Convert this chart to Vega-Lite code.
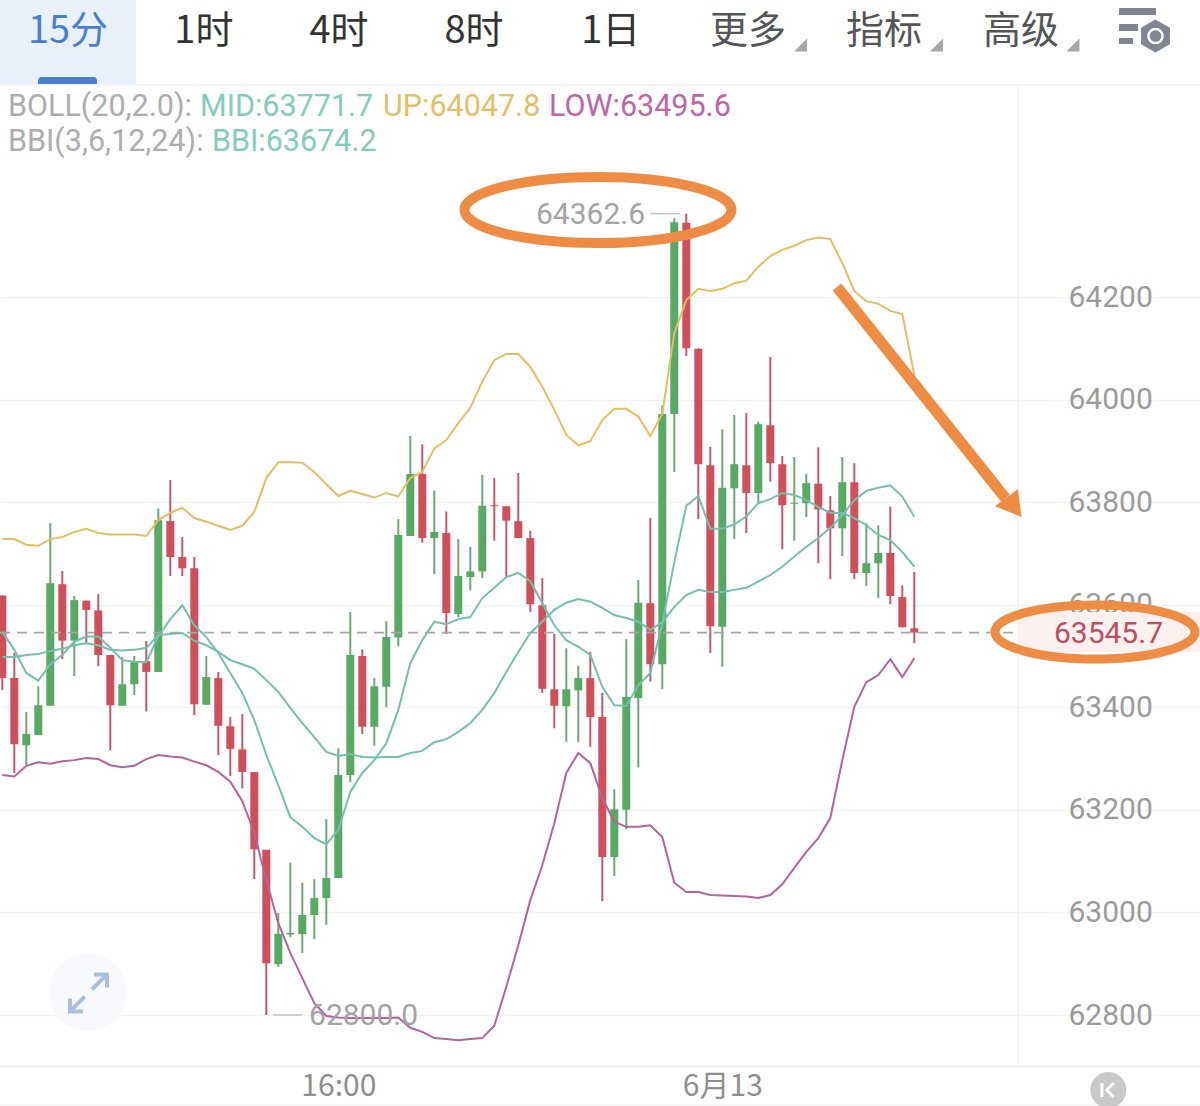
{"$schema":"https://vega.github.io/schema/vega-lite/v6.json","width":1200,"height":1106,"padding":0,"autosize":{"type":"none"},"background":"white","config":{"view":{"stroke":null},"text":{"font":"Roboto"}},
"datasets":{"candles":[
{"i":0,"o":63618,"h":63618,"l":63434,"c":63457,"up":63728,"low":63268,"mid":63498,"bbi":63547},
{"i":1,"o":63457,"h":63506,"l":63272,"c":63328,"up":63728,"low":63265,"mid":63498,"bbi":63512},
{"i":2,"o":63326,"h":63391,"l":63285,"c":63348,"up":63717,"low":63286,"mid":63502,"bbi":63467},
{"i":3,"o":63346,"h":63441,"l":63346,"c":63404,"up":63715,"low":63293,"mid":63504,"bbi":63452},
{"i":4,"o":63403,"h":63759,"l":63403,"c":63642,"up":63728,"low":63290,"mid":63510,"bbi":63484},
{"i":5,"o":63640,"h":63666,"l":63494,"c":63530,"up":63732,"low":63295,"mid":63514,"bbi":63502},
{"i":6,"o":63530,"h":63617,"l":63461,"c":63609,"up":63742,"low":63297,"mid":63521,"bbi":63528},
{"i":7,"o":63608,"h":63608,"l":63525,"c":63590,"up":63748,"low":63301,"mid":63525,"bbi":63538},
{"i":8,"o":63589,"h":63621,"l":63480,"c":63502,"up":63740,"low":63299,"mid":63521,"bbi":63538},
{"i":9,"o":63502,"h":63502,"l":63316,"c":63404,"up":63737,"low":63287,"mid":63512,"bbi":63516},
{"i":10,"o":63403,"h":63498,"l":63403,"c":63445,"up":63737,"low":63283,"mid":63511,"bbi":63492},
{"i":11,"o":63445,"h":63500,"l":63424,"c":63490,"up":63737,"low":63286,"mid":63512,"bbi":63489},
{"i":12,"o":63490,"h":63529,"l":63392,"c":63469,"up":63734,"low":63299,"mid":63516,"bbi":63488},
{"i":13,"o":63469,"h":63788,"l":63469,"c":63765,"up":63765,"low":63307,"mid":63541,"bbi":63538},
{"i":14,"o":63763,"h":63843,"l":63656,"c":63693,"up":63779,"low":63304,"mid":63543,"bbi":63572},
{"i":15,"o":63693,"h":63732,"l":63656,"c":63671,"up":63789,"low":63302,"mid":63545,"bbi":63599},
{"i":16,"o":63671,"h":63693,"l":63385,"c":63406,"up":63769,"low":63294,"mid":63530,"bbi":63560},
{"i":17,"o":63405,"h":63500,"l":63405,"c":63459,"up":63762,"low":63287,"mid":63521,"bbi":63537},
{"i":18,"o":63457,"h":63469,"l":63307,"c":63364,"up":63754,"low":63274,"mid":63508,"bbi":63506},
{"i":19,"o":63363,"h":63381,"l":63266,"c":63319,"up":63746,"low":63255,"mid":63492,"bbi":63467},
{"i":20,"o":63318,"h":63387,"l":63242,"c":63274,"up":63754,"low":63217,"mid":63484,"bbi":63428},
{"i":21,"o":63274,"h":63274,"l":63065,"c":63123,"up":63781,"low":63155,"mid":63475,"bbi":63375},
{"i":22,"o":63122,"h":63122,"l":62800,"c":62901,"up":63847,"low":63063,"mid":63453,"bbi":63307},
{"i":23,"o":62899,"h":62999,"l":62894,"c":62958,"up":63878,"low":62979,"mid":63430,"bbi":63248},
{"i":24,"o":62957,"h":63097,"l":62952,"c":62960,"up":63878,"low":62921,"mid":63399,"bbi":63186},
{"i":25,"o":62958,"h":63058,"l":62921,"c":62995,"up":63877,"low":62872,"mid":63369,"bbi":63167},
{"i":26,"o":62995,"h":63065,"l":62948,"c":63028,"up":63859,"low":62823,"mid":63342,"bbi":63145},
{"i":27,"o":63028,"h":63182,"l":62976,"c":63067,"up":63835,"low":62798,"mid":63313,"bbi":63133},
{"i":28,"o":63067,"h":63320,"l":63067,"c":63268,"up":63812,"low":62795,"mid":63305,"bbi":63161},
{"i":29,"o":63268,"h":63586,"l":63254,"c":63502,"up":63822,"low":62794,"mid":63309,"bbi":63235},
{"i":30,"o":63500,"h":63513,"l":63348,"c":63362,"up":63816,"low":62794,"mid":63303,"bbi":63272},
{"i":31,"o":63362,"h":63457,"l":63325,"c":63441,"up":63809,"low":62794,"mid":63302,"bbi":63297},
{"i":32,"o":63440,"h":63568,"l":63400,"c":63537,"up":63818,"low":62794,"mid":63303,"bbi":63330},
{"i":33,"o":63536,"h":63767,"l":63519,"c":63736,"up":63811,"low":62795,"mid":63303,"bbi":63395},
{"i":34,"o":63734,"h":63929,"l":63734,"c":63855,"up":63847,"low":62775,"mid":63311,"bbi":63486},
{"i":35,"o":63855,"h":63913,"l":63721,"c":63730,"up":63859,"low":62767,"mid":63315,"bbi":63531},
{"i":36,"o":63730,"h":63823,"l":63660,"c":63742,"up":63905,"low":62755,"mid":63332,"bbi":63567},
{"i":37,"o":63740,"h":63782,"l":63543,"c":63584,"up":63921,"low":62753,"mid":63338,"bbi":63562},
{"i":38,"o":63582,"h":63728,"l":63576,"c":63656,"up":63954,"low":62751,"mid":63352,"bbi":63572},
{"i":39,"o":63654,"h":63713,"l":63628,"c":63665,"up":63984,"low":62753,"mid":63369,"bbi":63576},
{"i":40,"o":63665,"h":63853,"l":63652,"c":63793,"up":64035,"low":62755,"mid":63395,"bbi":63613},
{"i":41,"o":63794,"h":63847,"l":63725,"c":63792,"up":64077,"low":62779,"mid":63428,"bbi":63633},
{"i":42,"o":63792,"h":63792,"l":63652,"c":63764,"up":64089,"low":62855,"mid":63469,"bbi":63654},
{"i":43,"o":63763,"h":63857,"l":63730,"c":63730,"up":64089,"low":62936,"mid":63508,"bbi":63662},
{"i":44,"o":63730,"h":63744,"l":63586,"c":63601,"up":64064,"low":63024,"mid":63545,"bbi":63646},
{"i":45,"o":63599,"h":63652,"l":63428,"c":63436,"up":64025,"low":63092,"mid":63567,"bbi":63603},
{"i":46,"o":63435,"h":63543,"l":63359,"c":63403,"up":63980,"low":63174,"mid":63590,"bbi":63560},
{"i":47,"o":63402,"h":63515,"l":63333,"c":63435,"up":63931,"low":63272,"mid":63604,"bbi":63531},
{"i":48,"o":63433,"h":63481,"l":63332,"c":63457,"up":63911,"low":63311,"mid":63611,"bbi":63518},
{"i":49,"o":63457,"h":63508,"l":63323,"c":63381,"up":63919,"low":63291,"mid":63606,"bbi":63502},
{"i":50,"o":63381,"h":63428,"l":63022,"c":63108,"up":63960,"low":63223,"mid":63594,"bbi":63440},
{"i":51,"o":63108,"h":63240,"l":63071,"c":63201,"up":63982,"low":63177,"mid":63580,"bbi":63404},
{"i":52,"o":63200,"h":63533,"l":63162,"c":63420,"up":63982,"low":63167,"mid":63574,"bbi":63403},
{"i":53,"o":63418,"h":63648,"l":63283,"c":63604,"up":63967,"low":63167,"mid":63567,"bbi":63443},
{"i":54,"o":63603,"h":63769,"l":63450,"c":63484,"up":63929,"low":63170,"mid":63551,"bbi":63467},
{"i":55,"o":63484,"h":63989,"l":63435,"c":63972,"up":63972,"low":63147,"mid":63566,"bbi":63564},
{"i":56,"o":63972,"h":64354,"l":63859,"c":64346,"up":64130,"low":63058,"mid":63596,"bbi":63683},
{"i":57,"o":64345,"h":64362.6,"l":64085,"c":64100,"up":64194,"low":63040,"mid":63619,"bbi":63793},
{"i":58,"o":64099,"h":64100,"l":63767,"c":63874,"up":64216,"low":63040,"mid":63629,"bbi":63812},
{"i":59,"o":63872,"h":63908,"l":63506,"c":63558,"up":64212,"low":63034,"mid":63625,"bbi":63748},
{"i":60,"o":63557,"h":63942,"l":63479,"c":63828,"up":64216,"low":63033,"mid":63625,"bbi":63748},
{"i":61,"o":63827,"h":63970,"l":63728,"c":63874,"up":64227,"low":63032,"mid":63629,"bbi":63757},
{"i":62,"o":63872,"h":63974,"l":63740,"c":63818,"up":64232,"low":63031,"mid":63633,"bbi":63772},
{"i":63,"o":63818,"h":63957,"l":63796,"c":63952,"up":64259,"low":63028,"mid":63645,"bbi":63798},
{"i":64,"o":63950,"h":64083,"l":63840,"c":63876,"up":64280,"low":63034,"mid":63658,"bbi":63806},
{"i":65,"o":63874,"h":63890,"l":63708,"c":63794,"up":64292,"low":63055,"mid":63674,"bbi":63818},
{"i":66,"o":63797,"h":63888,"l":63725,"c":63799,"up":64300,"low":63087,"mid":63694,"bbi":63814},
{"i":67,"o":63798,"h":63855,"l":63771,"c":63837,"up":64311,"low":63118,"mid":63713,"bbi":63804},
{"i":68,"o":63836,"h":63907,"l":63681,"c":63786,"up":64316,"low":63145,"mid":63730,"bbi":63791},
{"i":69,"o":63784,"h":63812,"l":63650,"c":63749,"up":64313,"low":63184,"mid":63750,"bbi":63779},
{"i":70,"o":63749,"h":63888,"l":63695,"c":63839,"up":64266,"low":63297,"mid":63775,"bbi":63779},
{"i":71,"o":63839,"h":63876,"l":63650,"c":63662,"up":64212,"low":63401,"mid":63804,"bbi":63769},
{"i":72,"o":63662,"h":63759,"l":63637,"c":63681,"up":64192,"low":63449,"mid":63822,"bbi":63755},
{"i":73,"o":63681,"h":63755,"l":63613,"c":63701,"up":64187,"low":63463,"mid":63828,"bbi":63736},
{"i":74,"o":63701,"h":63791,"l":63601,"c":63617,"up":64173,"low":63494,"mid":63833,"bbi":63726},
{"i":75,"o":63615,"h":63638,"l":63556,"c":63556,"up":64167,"low":63459,"mid":63811,"bbi":63703},
{"i":76,"o":63554,"h":63664,"l":63525,"c":63545.7,"up":64047.8,"low":63495.6,"mid":63771.7,"bbi":63674.2}
]},
"encoding":{"x":{"field":"i","type":"quantitative","title":null,"scale":{"domain":[-0.192,99.808],"nice":false,"zero":false,"padding":0},"axis":{"orient":"bottom","offset":-40,"values":[28,60],"labelExpr":"datum.value==28?'16:00':'6月13'","grid":false,"ticks":false,"domain":true,"domainColor":"#efefef","domainWidth":2,"labelFont":"Noto Sans CJK SC","labelFontSize":30,"labelColor":"#8e8e8e","labelPadding":5,"labelBaseline":"top","labelOverlap":false,"labelFlush":false,"title":null}},
"y":{"field":"price","type":"quantitative","title":null,"scale":{"domain":[62622.55,64779.25],"nice":false,"zero":false},"axis":{"orient":"right","offset":-132,"values":[62800,63000,63200,63400,63600,63800,64000,64200],"labelExpr":"''+datum.value","grid":true,"gridColor":"#f3f3f3","gridWidth":1.5,"ticks":false,"domain":false,"labelFont":"Roboto","labelFontSize":30,"labelColor":"#9b9b9b","labelPadding":0,"labelAlign":"left","labelBaseline":"middle","labelOverlap":false,"labelFlush":false,"title":null}}},
"layer":[
{"data":{"values":[{"i":-0.192,"i2":11.14,"price":64779.25,"price2":64615.45}]},"mark":{"type":"rect","fill":"#e8f1fc"},"encoding":{"x2":{"field":"i2"},"y2":{"field":"price2"}}},
{"data":{"values":[{"i":2.98,"i2":7.89,"price":64629.1,"price2":64615.45}]},"mark":{"type":"rect","fill":"#4a7dcf","cornerRadiusTopLeft":6,"cornerRadiusTopRight":6},"encoding":{"x2":{"field":"i2"},"y2":{"field":"price2"}}},
{"data":{"values":[{"i":-0.192,"i2":99.808,"price":64613.5}]},"mark":{"type":"rule","stroke":"#f2f2f2","strokeWidth":1.5},"encoding":{"x2":{"field":"i2"}}},
{"data":{"values":[{"i":-0.192,"i2":99.808,"price":62624.5}]},"mark":{"type":"rule","stroke":"#f2f2f2","strokeWidth":1.5},"encoding":{"x2":{"field":"i2"}}},
{"data":{"values":[{"i":84.64,"price":64613.5,"price2":62700.55}]},"mark":{"type":"rule","stroke":"#f2f2f2","strokeWidth":1.5},"encoding":{"y2":{"field":"price2"}}},
{"data":{"values":[{"i":7.14,"price":62844}]},"mark":{"type":"point","shape":"circle","filled":true,"fill":"#f7f9fc","size":6000,"opacity":1},"encoding":{}},
{"data":{"values":[{"i":7.18,"price":62843}]},"mark":{"type":"point","shape":"M.19,-.19 L1,-1 M.3,-1 L1,-1 L1,-.3 M-.2,.2 L-1,1 M-1,.3 L-1,1 L-.3,1","filled":false,"stroke":"#a9bfdc","strokeWidth":4,"size":1369,"opacity":1},"encoding":{}},
{"data":{"values":[{"i":92.17,"price":62653.75}]},"mark":{"type":"point","shape":"circle","filled":true,"fill":"#c9c9c9","size":1296,"opacity":1},"encoding":{}},
{"data":{"values":[{"i":92.1,"price":62653.75}]},"mark":{"type":"point","shape":"M-.8,-1 L-.8,1 M.9,-1 L-.1,0 L.9,1","filled":false,"stroke":"#ffffff","strokeWidth":3,"size":196,"opacity":1},"encoding":{}},
{"data":{"name":"candles"},"mark":{"type":"rule","strokeWidth":2},"encoding":{"y":{"field":"h","type":"quantitative","title":null},"y2":{"field":"l"},"color":{"condition":{"test":"datum.c>=datum.o","value":"#6ba877"},"value":"#c25a6e"}}},
{"data":{"name":"candles"},"mark":{"type":"bar","size":8},"encoding":{"y":{"field":"o","type":"quantitative","title":null},"y2":{"field":"c"},"color":{"condition":{"test":"datum.c>=datum.o","value":"#58a963"},"value":"#cf4f5b"}}},
{"data":{"values":[{"i":-0.192,"i2":84.39,"price":63545.7}]},"mark":{"type":"rule","stroke":"#a6a6a6","strokeWidth":1.8,"strokeDash":[10,7]},"encoding":{"x2":{"field":"i2"}}},
{"data":{"name":"candles"},"mark":{"type":"line","stroke":"#e3bf62","strokeWidth":2},"encoding":{"y":{"field":"up","type":"quantitative","title":null}}},
{"data":{"name":"candles"},"mark":{"type":"line","stroke":"#b3649e","strokeWidth":2},"encoding":{"y":{"field":"low","type":"quantitative","title":null}}},
{"data":{"name":"candles"},"mark":{"type":"line","stroke":"#74bfae","strokeWidth":2},"encoding":{"y":{"field":"mid","type":"quantitative","title":null}}},
{"data":{"name":"candles"},"mark":{"type":"line","stroke":"#74bfae","strokeWidth":2},"encoding":{"y":{"field":"bbi","type":"quantitative","title":null}}},
{"data":{"values":[{"i":53.97,"i2":56.47,"price":64362.6},{"i":22.56,"i2":24.97,"price":62800}]},"mark":{"type":"rule","stroke":"#c4c4c4","strokeWidth":1.5},"encoding":{"x2":{"field":"i2"}}},
{"data":{"values":[{"i":53.56,"price":64360,"label":"64362.6"}]},"mark":{"type":"text","align":"right","baseline":"middle","font":"Roboto","fontSize":30,"fill":"#a3a3a3"},"encoding":{"text":{"field":"label"}}},
{"data":{"values":[{"i":25.56,"price":62798,"label":"62800.0"}]},"mark":{"type":"text","align":"left","baseline":"middle","font":"Roboto","fontSize":30,"fill":"#a3a3a3"},"encoding":{"text":{"field":"label"}}},
{"data":{"values":[{"i":0.475,"price":64571.5,"label":"BOLL(20,2.0):"},{"i":0.475,"price":64503.25,"label":"BBI(3,6,12,24):"}]},"mark":{"type":"text","align":"left","baseline":"middle","font":"Roboto","fontSize":30.5,"fill":"#adadad"},"encoding":{"text":{"field":"label"}}},
{"data":{"values":[{"i":16.475,"price":64571.5,"label":"MID:63771.7"},{"i":17.475,"price":64503.25,"label":"BBI:63674.2"}]},"mark":{"type":"text","align":"left","baseline":"middle","font":"Roboto","fontSize":30.5,"fill":"#82cdb9"},"encoding":{"text":{"field":"label"}}},
{"data":{"values":[{"i":31.725,"price":64571.5,"label":"UP:64047.8"}]},"mark":{"type":"text","align":"left","baseline":"middle","font":"Roboto","fontSize":30.5,"fill":"#e2bf68"},"encoding":{"text":{"field":"label"}}},
{"data":{"values":[{"i":45.56,"price":64571.5,"label":"LOW:63495.6"}]},"mark":{"type":"text","align":"left","baseline":"middle","font":"Roboto","fontSize":30.5,"fill":"#c064a4"},"encoding":{"text":{"field":"label"}}},
{"data":{"values":[{"i":5.475,"price":64716,"label":"15分"}]},"mark":{"type":"text","align":"center","baseline":"middle","font":"Noto Sans CJK SC","fontSize":38,"fill":"#4a7fd0"},"encoding":{"text":{"field":"label"}}},
{"data":{"values":[{"i":16.8,"price":64716,"label":"1时"},{"i":28.06,"price":64716,"label":"4时"},{"i":39.31,"price":64716,"label":"8时"},{"i":50.7,"price":64716,"label":"1日"}]},"mark":{"type":"text","align":"center","baseline":"middle","font":"Noto Sans CJK SC","fontSize":38,"fill":"#333333"},"encoding":{"text":{"field":"label"}}},
{"data":{"values":[{"i":62.14,"price":64716,"label":"更多"},{"i":73.47,"price":64716,"label":"指标"},{"i":84.9,"price":64716,"label":"高级"}]},"mark":{"type":"text","align":"center","baseline":"middle","font":"Noto Sans CJK SC","fontSize":38,"fill":"#555555"},"encoding":{"text":{"field":"label"}}},
{"data":{"values":[{"i":66.52,"price":64691.5},{"i":77.85,"price":64691.5},{"i":89.22,"price":64691.5}]},"mark":{"type":"point","shape":"M1,-1 L1,1 L-1,1 Z","filled":true,"fill":"#a8a8a8","size":169,"opacity":1},"encoding":{}},
{"data":{"values":[{"i":94.6,"price":64728.5}]},"mark":{"type":"point","shape":"M-1,-.97 L1,-.97 L1,-.59 L-1,-.59 Z M-1,-.11 L.03,-.11 L.03,.27 L-1,.27 Z M-1,.65 L-.24,.65 L-.24,.97 L-1,.97 Z","filled":true,"fill":"#808591","size":1369,"opacity":1},"encoding":{}},
{"data":{"values":[{"i":96.1,"price":64709}]},"mark":{"type":"point","shape":"M0,-1 L.87,-.5 L.87,.5 L0,1 L-.87,.5 L-.87,-.5 Z","filled":true,"fill":"#808591","size":1100,"opacity":1},"encoding":{}},
{"data":{"values":[{"i":96.1,"price":64709}]},"mark":{"type":"point","shape":"circle","filled":false,"stroke":"#ffffff","strokeWidth":2.5,"size":200,"opacity":1},"encoding":{}},
{"data":{"values":[{"i":84.64,"i2":99.808,"price":63585.85,"price2":63507.85}]},"mark":{"type":"rect","fill":"#fdf1f0"},"encoding":{"x2":{"field":"i2"},"y2":{"field":"price2"}}},
{"data":{"values":[{"i":92.18,"price":63543,"label":"63545.7"}]},"mark":{"type":"text","align":"center","baseline":"middle","font":"Roboto","fontSize":30,"fill":"#b8505e"},"encoding":{"text":{"field":"label"}}},
{"data":{"values":[{"i":69.56,"i2":83.6,"price":64219.6,"price2":63807.6}]},"mark":{"type":"rule","stroke":"#ef8c43","strokeWidth":11},"encoding":{"x2":{"field":"i2"},"y2":{"field":"price2"}}},
{"data":{"values":[{"i":83.8,"price":63798}]},"mark":{"type":"point","shape":"M.98,.98 L-.93,.21 L.71,-1 Z","filled":true,"fill":"#ef8c43","size":784,"opacity":1},"encoding":{}},
{"data":{"values":[{"i":49.64,"price":64369.75}]},"mark":{"type":"point","shape":"M-1,0 A1,0.247 0 1,1 1,0 A1,0.247 0 1,1 -1,0 Z","filled":false,"stroke":"#ef8c43","strokeWidth":10,"size":71289,"opacity":1},"encoding":{}},
{"data":{"values":[{"i":91.06,"price":63546.85}]},"mark":{"type":"point","shape":"M-1,0 A1,0.27 0 1,1 1,0 A1,0.27 0 1,1 -1,0 Z","filled":false,"stroke":"#ef8c43","strokeWidth":9,"size":40000,"opacity":1},"encoding":{}}
]}
